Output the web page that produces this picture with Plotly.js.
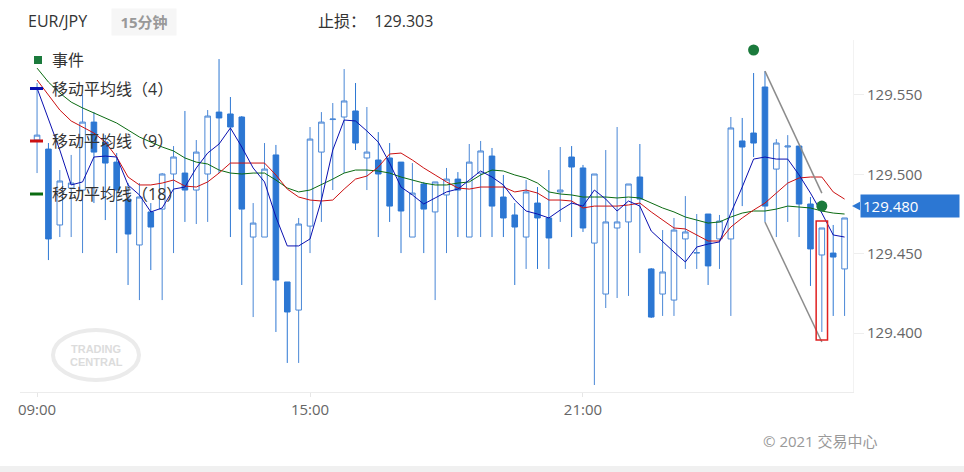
<!DOCTYPE html>
<html><head><meta charset="utf-8">
<script src="https://cdn.plot.ly/plotly-3.0.1.min.js"></script>
<style>html,body{margin:0;padding:0;background:#fff;}#chart{width:964px;height:472px;}</style>
</head><body><div id="chart"></div>
<script>
const times = ["09:00","09:15","09:30","09:45","10:00","10:15","10:30","10:45","11:00","11:15","11:30","11:45",
"12:00","12:15","12:30","12:45","13:00","13:15","13:30","13:45","14:00","14:15","14:30","14:45",
"15:00","15:15","15:30","15:45","16:00","16:15","16:30","16:45","17:00","17:15","17:30","17:45",
"18:00","18:15","18:30","18:45","19:00","19:15","19:30","19:45","20:00","20:15","20:30","20:45",
"21:00","21:15","21:30","21:45","22:00","22:15","22:30","22:45","23:00","23:15","23:30","23:45",
"00:00","00:15","00:30","00:45","01:00","01:15","01:30","01:45","02:00","02:15","02:30","02:45"];

const openP = [129.5216,129.5159,129.4681,129.4914,129.4901,129.5329,129.5203,129.5077,129.4844,129.4555,129.4763,129.4781,
129.5002,129.5008,129.4901,129.5002,129.5392,129.5380,129.5361,129.4605,129.4605,129.5122,129.4322,129.4145,
129.4674,129.5140,129.5345,129.5361,129.5399,129.5103,129.5090,129.5103,129.5077,129.4605,129.4939,129.4763,
129.4870,129.4970,129.4605,129.5008,129.5115,129.4857,129.4744,129.4605,129.4819,129.4725,129.4889,129.5109,
129.5040,129.4567,129.4246,129.4662,129.4700,129.4983,129.4404,129.4246,129.4208,129.4593,129.4504,129.4750,
129.4593,129.4593,129.5210,129.5260,129.5550,129.5033,129.5172,129.5178,129.4813,129.4492,129.4504,129.4404];
const highP = [129.5575,129.5197,129.5027,129.5122,129.5499,129.5392,129.5247,129.5134,129.4945,129.4945,129.4819,129.5008,
129.5178,129.5399,129.5216,129.5405,129.5726,129.5487,129.5367,129.4819,129.5197,129.5185,129.4322,129.4725,
129.5298,129.5392,129.5449,129.5663,129.5575,129.5424,129.5266,129.5197,129.5077,129.5071,129.4952,129.4952,
129.5040,129.5014,129.5191,129.5210,129.5166,129.4996,129.4819,129.4964,129.4920,129.5027,129.5172,129.5178,
129.5059,129.5002,129.5153,129.5298,129.4939,129.5191,129.4410,129.4649,129.4725,129.4863,129.4750,129.4750,
129.4744,129.5361,129.5355,129.5638,129.5650,129.5222,129.5247,129.5178,129.4857,129.4662,129.4681,129.4725];
const lowP = [129.5008,129.4460,129.4605,129.4605,129.4504,129.4819,129.4712,129.4504,129.4303,129.4208,129.4397,129.4208,
129.4504,129.4700,129.4687,129.4700,129.5008,129.4605,129.4303,129.4101,129.4605,129.4007,129.3812,129.3812,
129.4504,129.4700,129.4901,129.5008,129.5153,129.4901,129.4605,129.4700,129.4504,129.4605,129.4504,129.4208,
129.4504,129.4605,129.4605,129.4605,129.4605,129.4605,129.4303,129.4404,129.4404,129.4404,129.4700,129.4605,
129.4637,129.3673,129.4158,129.4221,129.4234,129.4504,129.4095,129.4108,129.4108,129.4404,129.4404,129.4303,
129.4404,129.4108,129.4800,129.5109,129.4700,129.4605,129.4700,129.4605,129.4297,129.4007,129.4108,129.4108];
const closeP = [129.5247,129.4593,129.4958,129.4945,129.5329,129.5140,129.5071,129.4901,129.4624,129.4857,129.4668,129.5002,
129.5109,129.4901,129.5140,129.5367,129.5355,129.5298,129.4781,129.4693,129.5033,129.4334,129.4133,129.4687,
129.5222,129.5329,129.5348,129.5462,129.5197,129.5140,129.5002,129.4800,129.4769,129.4882,129.4781,129.4952,
129.4970,129.4901,129.5077,129.5147,129.4800,129.4725,129.4668,129.4889,129.4725,129.4599,129.4901,129.5046,
129.4662,129.5002,129.4700,129.4700,129.4939,129.4844,129.4101,129.4385,129.4649,129.4637,129.4507,129.4423,
129.4706,129.5292,129.5172,129.5197,129.4800,129.5197,129.5178,129.4813,129.4530,129.4662,129.4479,129.4725];

const ma4 = [129.5543,129.5342,129.5153,129.4933,129.4952,129.5109,129.5115,129.5109,129.4933,129.4870,129.4763,129.4788,
129.4907,129.4920,129.5040,129.5134,129.5191,129.5292,129.5172,129.5040,129.4952,129.4731,129.4549,129.4549,
129.4593,129.4838,129.5153,129.5342,129.5336,129.5273,129.5203,129.5071,129.4920,129.4870,129.4813,129.4851,
129.4889,129.4907,129.4964,129.5021,129.4983,129.4933,129.4838,129.4769,129.4750,129.4725,129.4775,129.4819,
129.4800,129.4901,129.4844,129.4769,129.4832,129.4800,129.4643,129.4574,129.4511,129.4448,129.4542,129.4561,
129.4574,129.4756,129.4920,129.5096,129.5109,129.5096,129.5096,129.4996,129.4882,129.4756,129.4618,129.4605];
const ma9 = [129.5594,129.5499,129.5405,129.5336,129.5298,129.5260,129.5203,129.5109,129.4983,129.4933,129.4933,129.4945,
129.4964,129.4926,129.4920,129.4952,129.5008,129.5071,129.5071,129.5071,129.5071,129.4996,129.4907,129.4857,
129.4838,129.4832,129.4838,129.4907,129.4970,129.4989,129.5046,129.5128,129.5134,129.5090,129.5040,129.4996,
129.4952,129.4914,129.4907,129.4920,129.4920,129.4920,129.4889,129.4901,129.4882,129.4838,129.4838,129.4832,
129.4788,129.4800,129.4800,129.4800,129.4807,129.4819,129.4763,129.4712,129.4662,129.4656,129.4618,129.4580,
129.4580,129.4668,129.4725,129.4775,129.4819,129.4882,129.4945,129.4977,129.4983,129.4983,129.4889,129.4844];
const ma18 = [129.5669,129.5581,129.5512,129.5455,129.5418,129.5386,129.5355,129.5323,129.5279,129.5235,129.5203,129.5172,
129.5147,129.5103,129.5077,129.5065,129.5027,129.5008,129.5002,129.5008,129.5008,129.4964,129.4914,129.4889,
129.4901,129.4933,129.4970,129.5008,129.5027,129.5027,129.5021,129.5008,129.4983,129.4964,129.4945,129.4933,
129.4933,129.4945,129.4952,129.4996,129.5027,129.5021,129.4996,129.4977,129.4945,129.4889,129.4876,129.4870,
129.4857,129.4857,129.4857,129.4851,129.4857,129.4851,129.4819,129.4788,129.4763,129.4731,129.4712,129.4693,
129.4700,129.4731,129.4756,129.4769,129.4769,129.4781,129.4800,129.4794,129.4788,129.4769,129.4756,129.4750];

const eventTimes = ["00:45","02:15"];
const eventPrices = [129.5783,129.4800];
const upperLineTimes = ["01:00","02:15"];
const upperLinePrices = [129.5650,129.4882];
const lowerLineTimes = ["01:00","02:15"];
const lowerLinePrices = [129.4700,129.3944];
const boxIndex = 69;
const boxPrices = [129.3957,129.4706];
const tickTimes = ["09:00","15:00","21:00"];
const yTicks = [129.40,129.45,129.50,129.55];
const lastPrice = 129.480;
const stopLoss = "129.303";
const legendLabels = ["事件","移动平均线（4）","移动平均线（9）","移动平均线（18）"];

const BLUE = '#2c77d3';
const FONT = 'Open Sans, Noto Sans CJK SC, sans-serif';
const L = 20, W = 833, T = 40, H = 352;
const px = x => (x - L) / W;
const py = y => (T + H - y) / H;

const traces = [
  {type:'candlestick', x:times, open:openP, high:highP, low:lowP, close:closeP,
   increasing:{line:{color:'#4a87d6', width:1}, fillcolor:'#ffffff'},
   decreasing:{line:{color:BLUE, width:1}, fillcolor:BLUE},
   whiskerwidth:0, hoverinfo:'skip', showlegend:false},
  {type:'scatter', mode:'lines', x:times, y:ma18, line:{color:'#0b6b12', width:1}, hoverinfo:'skip', showlegend:false},
  {type:'scatter', mode:'lines', x:times, y:ma9, line:{color:'#cc1111', width:1}, hoverinfo:'skip', showlegend:false},
  {type:'scatter', mode:'lines', x:times, y:ma4, line:{color:'#0a10b0', width:1}, hoverinfo:'skip', showlegend:false},
  {type:'scatter', mode:'lines', x:upperLineTimes, y:upperLinePrices, line:{color:'#8c8c8c', width:1.5}, hoverinfo:'skip', showlegend:false},
  {type:'scatter', mode:'lines', x:lowerLineTimes, y:lowerLinePrices, line:{color:'#8c8c8c', width:1.5}, hoverinfo:'skip', showlegend:false},
  {type:'scatter', mode:'markers', x:eventTimes, y:eventPrices, marker:{color:'#1b7a3c', size:11}, hoverinfo:'skip', showlegend:false}
];

const annotations = [
  {xref:'paper', yref:'paper', x:px(26), y:py(21), xanchor:'left', yanchor:'middle', showarrow:false,
   text:'EUR/JPY', font:{family:FONT, size:16, color:'#333'}},
  {xref:'paper', yref:'paper', x:px(143.5), y:py(21.5), xanchor:'center', yanchor:'middle', showarrow:false,
   text:'<b>15分钟</b>', font:{family:FONT, size:15, color:'#999'}, bgcolor:'#f6f6f6', borderpad:3, width:58},
  {xref:'paper', yref:'paper', x:px(316), y:py(21), xanchor:'left', yanchor:'middle', showarrow:false,
   text:'止损：  ' + stopLoss, font:{family:FONT, size:16, color:'#333'}},
  {xref:'paper', yref:'paper', x:px(880), y:py(441), xanchor:'right', yanchor:'middle', showarrow:false,
   text:'© 2021 交易中心', font:{family:FONT, size:15, color:'#999'}},
  {xref:'paper', yref:'y', x:px(860), y:lastPrice, xanchor:'left', yanchor:'middle', showarrow:false,
   text:'129.480', align:'left', width:94, height:18, borderpad:2, bgcolor:BLUE,
   font:{family:FONT, size:15, color:'#fff'}},
  {xref:'paper', yref:'paper', x:px(96), y:py(349), xanchor:'center', yanchor:'middle', showarrow:false,
   text:'<b>TRADING</b>', font:{family:'Arial, sans-serif', size:11, color:'#dcdcdc'}},
  {xref:'paper', yref:'paper', x:px(96), y:py(362), xanchor:'center', yanchor:'middle', showarrow:false,
   text:'<b>CENTRAL</b>', font:{family:'Arial, sans-serif', size:11, color:'#dcdcdc'}}
];
const legendY = [60, 89, 141, 194];
legendLabels.forEach((t, i) => annotations.push({xref:'paper', yref:'paper', x:px(50), y:py(legendY[i]),
  xanchor:'left', yanchor:'middle', showarrow:false, text:t, font:{family:FONT, size:16, color:'#333'}}));

const shapes = [
  {type:'rect', xref:'x', yref:'y', x0:boxIndex-0.5, x1:boxIndex+0.5, y0:boxPrices[0], y1:boxPrices[1],
   line:{color:'#e02020', width:1.5}, fillcolor:'rgba(0,0,0,0)'},
  {type:'path', xref:'paper', yref:'y', path:`M ${px(860)} ${lastPrice+0.0027} L ${px(852)} ${lastPrice} L ${px(860)} ${lastPrice-0.0027} Z`,
   fillcolor:BLUE, line:{width:0}},
  {type:'circle', xref:'paper', yref:'paper', x0:px(53), x1:px(139), y0:py(380), y1:py(330),
   line:{color:'#ebebeb', width:4}, layer:'below'},
  {type:'rect', xref:'paper', yref:'paper', x0:px(0), x1:px(964), y0:py(472), y1:py(466),
   fillcolor:'#f0f0f0', line:{width:0}},
  {type:'rect', xref:'paper', yref:'paper', x0:px(34), x1:px(42), y0:py(64), y1:py(56), fillcolor:'#1b7a3c', line:{width:0}},
  {type:'line', xref:'paper', yref:'paper', x0:px(30), x1:px(43), y0:py(88.5), y1:py(88.5), line:{color:'#0a10b0', width:3}},
  {type:'line', xref:'paper', yref:'paper', x0:px(30), x1:px(43), y0:py(141), y1:py(141), line:{color:'#cc1111', width:3}},
  {type:'line', xref:'paper', yref:'paper', x0:px(30), x1:px(43), y0:py(194), y1:py(194), line:{color:'#0b6b12', width:3}}
];

const layout = {
  width:964, height:472,
  margin:{l:L, r:964-L-W, t:T, b:472-T-H, pad:0},
  paper_bgcolor:'#fff', plot_bgcolor:'#fff',
  font:{family:FONT, size:15, color:'#666'},
  showlegend:false,
  xaxis:{type:'category', range:[-1.5, 71.74], rangeslider:{visible:false}, showgrid:false, zeroline:false,
    tickmode:'array', tickvals:tickTimes, ticktext:tickTimes, ticks:'outside', ticklen:4, tickcolor:'#e6e6e6',
    showline:true, linecolor:'#ececec', linewidth:1, tickfont:{family:FONT, size:15, color:'#666'}, fixedrange:true},
  yaxis:{side:'right', range:[129.3629, 129.5846], showgrid:false, zeroline:false, tickmode:'array', tickvals:yTicks,
    tickformat:'.3f', ticks:'outside', ticklen:10, tickcolor:'#eeeeee', showline:true, linecolor:'#f2f2f2',
    tickfont:{family:FONT, size:15, color:'#666'}, fixedrange:true},
  annotations:annotations, shapes:shapes
};

Plotly.newPlot('chart', traces, layout, {displayModeBar:false, staticPlot:true});
</script></body></html>
